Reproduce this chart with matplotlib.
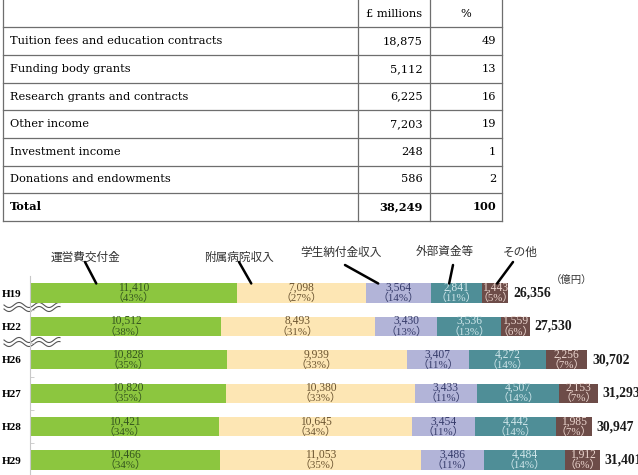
import numpy as np
import matplotlib
matplotlib.use("Agg")
import matplotlib.pyplot as plt

# ---- table data (UK university income) ----
row_labels = ["Tuition fees and education contracts", "Funding body grants",
              "Research grants and contracts", "Other income",
              "Investment income", "Donations and endowments"]
row_amounts = ["18,875", "5,112", "6,225", "7,203", "248", "586"]
row_shares = ["49", "13", "16", "19", "1", "2"]
total_label, total_amount, total_share = "Total", "38,249", "100"

# ---- stacked bar data (億円) ----
years = ["H19", "H22", "H26", "H27", "H28", "H29"]
series_names = ["運営費交付金", "附属病院収入", "学生納付金収入", "外部資金等", "その他"]
unei = [11410, 10512, 10828, 10820, 10421, 10466]
byoin = [7098, 8493, 9939, 10380, 10645, 11053]
gakusei = [3564, 3430, 3407, 3433, 3454, 3486]
gaibu = [2841, 3536, 4272, 4507, 4442, 4484]
sonota = [1443, 1559, 2256, 2153, 1985, 1912]
pct_unei = [43, 38, 35, 35, 34, 34]
pct_byoin = [27, 31, 33, 33, 34, 35]
pct_gakusei = [14, 13, 11, 11, 11, 11]
pct_gaibu = [11, 13, 14, 14, 14, 14]
pct_sonota = [5, 6, 7, 7, 7, 6]
totals = ["26,356", "27,530", "30,702", "31,293", "30,947", "31,401"]

BAR_COLORS = ["#8cc63f", "#fde6b4", "#b2b4d8", "#4f8e97", "#6d4c48"]
TXT_COLORS = ["#35561f", "#6b5430", "#363b6a", "#cfe6ea", "#ecd6cf"]
SERIF = ["Liberation Serif", "Noto Sans CJK JP"]
TSERIF = ["DejaVu Serif"]
JP = ["Noto Sans CJK JP", "DejaVu Sans"]

W, H = 638, 475
fig = plt.figure(figsize=(W / 100, H / 100), dpi=100)

# overlay in image pixel coordinates for table and decorations
ov = fig.add_axes([0, 0, 1, 1])
ov.set_xlim(0, W)
ov.set_ylim(H, 0)
ov.axis("off")

# table grid
hlines = [27, 55, 83, 110, 138, 166, 193, 221]
vlines = [3, 358, 430, 502]
lc = "#6e6e6e"
for y in hlines:
    ov.plot([vlines[0], vlines[-1]], [y, y], color=lc, lw=0.9)
for x in vlines:
    ov.plot([x, x], [0, hlines[-1]], color=lc, lw=0.9)

tfs = 8.2
ov.text(394, 14, "£ millions", ha="center", va="center", fontsize=tfs, family=TSERIF)
ov.text(466, 14, "%", ha="center", va="center", fontsize=tfs, family=TSERIF)
all_rows = list(zip(row_labels, row_amounts, row_shares)) + [(total_label, total_amount, total_share)]
for k, (lab, amt, sh) in enumerate(all_rows):
    yc = (hlines[k] + hlines[k + 1]) / 2
    fw = "bold" if k == len(all_rows) - 1 else "normal"
    ov.text(10, yc, lab, ha="left", va="center", fontsize=tfs, family=TSERIF, fontweight=fw)
    ov.text(423, yc, amt, ha="right", va="center", fontsize=tfs, family=TSERIF, fontweight=fw)
    ov.text(496, yc, sh, ha="right", va="center", fontsize=tfs, family=TSERIF, fontweight=fw)

# ---- bar chart ----
ax = fig.add_axes([30 / W, 0, 608 / W, 199 / H])
ax.patch.set_alpha(0)
ax.set_xlim(0, 33500)
ax.set_ylim(5.449, -0.509)
for s in ["top", "right", "bottom"]:
    ax.spines[s].set_visible(False)
ax.spines["left"].set_color("#c8c8c8")
ax.set_xticks([])
ypos = np.arange(len(years))
ax.set_yticks(ypos, years)
ax.tick_params(axis="y", length=0, pad=6)
for t in ax.get_yticklabels():
    t.set_family(SERIF)
    t.set_fontweight("bold")
    t.set_fontsize(8)
ax.set_yticks(ypos[:-1] + 0.5, minor=True)
ax.tick_params(axis="y", which="minor", length=3, direction="in", color="#c8c8c8")

bh = 0.57
vals = [unei, byoin, gakusei, gaibu, sonota]
pcts = [pct_unei, pct_byoin, pct_gakusei, pct_gaibu, pct_sonota]
left = np.zeros(len(years))
for j, (v, p) in enumerate(zip(vals, pcts)):
    v = np.array(v, dtype=float)
    ax.barh(ypos, v, height=bh, left=left, color=BAR_COLORS[j], edgecolor="none")
    for i in range(len(years)):
        xc = left[i] + v[i] / 2
        ax.annotate(f"{int(v[i]):,}", (xc, ypos[i]), xytext=(0, 3.8), textcoords="offset points",
                    ha="center", va="center", fontsize=8.3, family=SERIF, color=TXT_COLORS[j])
        ax.annotate(f"（{p[i]}%）", (xc, ypos[i]), xytext=(0, -3.6), textcoords="offset points",
                    ha="center", va="center", fontsize=7.8, family=SERIF, color=TXT_COLORS[j])
    left += v

for i in range(len(years)):
    ax.annotate(totals[i], (left[i], ypos[i]), xytext=(3.5, 0), textcoords="offset points",
                ha="left", va="center", fontsize=9.8, family=SERIF, fontweight="bold", color="#1a1a1a")

# callout lines from series names to the H19 bar
label_pos = [(85, 257), (239, 257), (341, 252), (445, 252), (520, 252)]
line_start = [(85, 262), (239, 262), (345, 265), (453, 265), (513, 262)]
seg_frac = [0.32, 0.11, 0.19, 0.36, 0.57]
cum = 0.0
for j, name in enumerate(series_names):
    seg = vals[j][0]
    xd = cum + seg * seg_frac[j]
    cum += seg
    ov.text(label_pos[j][0], label_pos[j][1], name, ha="center", va="center",
            fontsize=8.4, family=JP, color="#333333")
    ax.annotate("", xy=(xd, ypos[0] - bh / 2), xycoords="data",
                xytext=(line_start[j][0], H - line_start[j][1]), textcoords="figure pixels",
                arrowprops=dict(arrowstyle="-", lw=1.8, color="black", shrinkA=0, shrinkB=0))

ov.text(572, 280, "（億円）", ha="center", va="center", fontsize=7.5, family=JP, color="#333333")

# axis-break wavy marks
xs = np.linspace(4, 60, 120)
for yb in (307, 342):
    for dy in (-2, 2):
        ov.plot(xs, yb + dy + 2.5 * np.sin((xs - 4) / 20 * 2 * np.pi), color="#555555", lw=0.8)

fig.savefig("out.png", dpi=100)
